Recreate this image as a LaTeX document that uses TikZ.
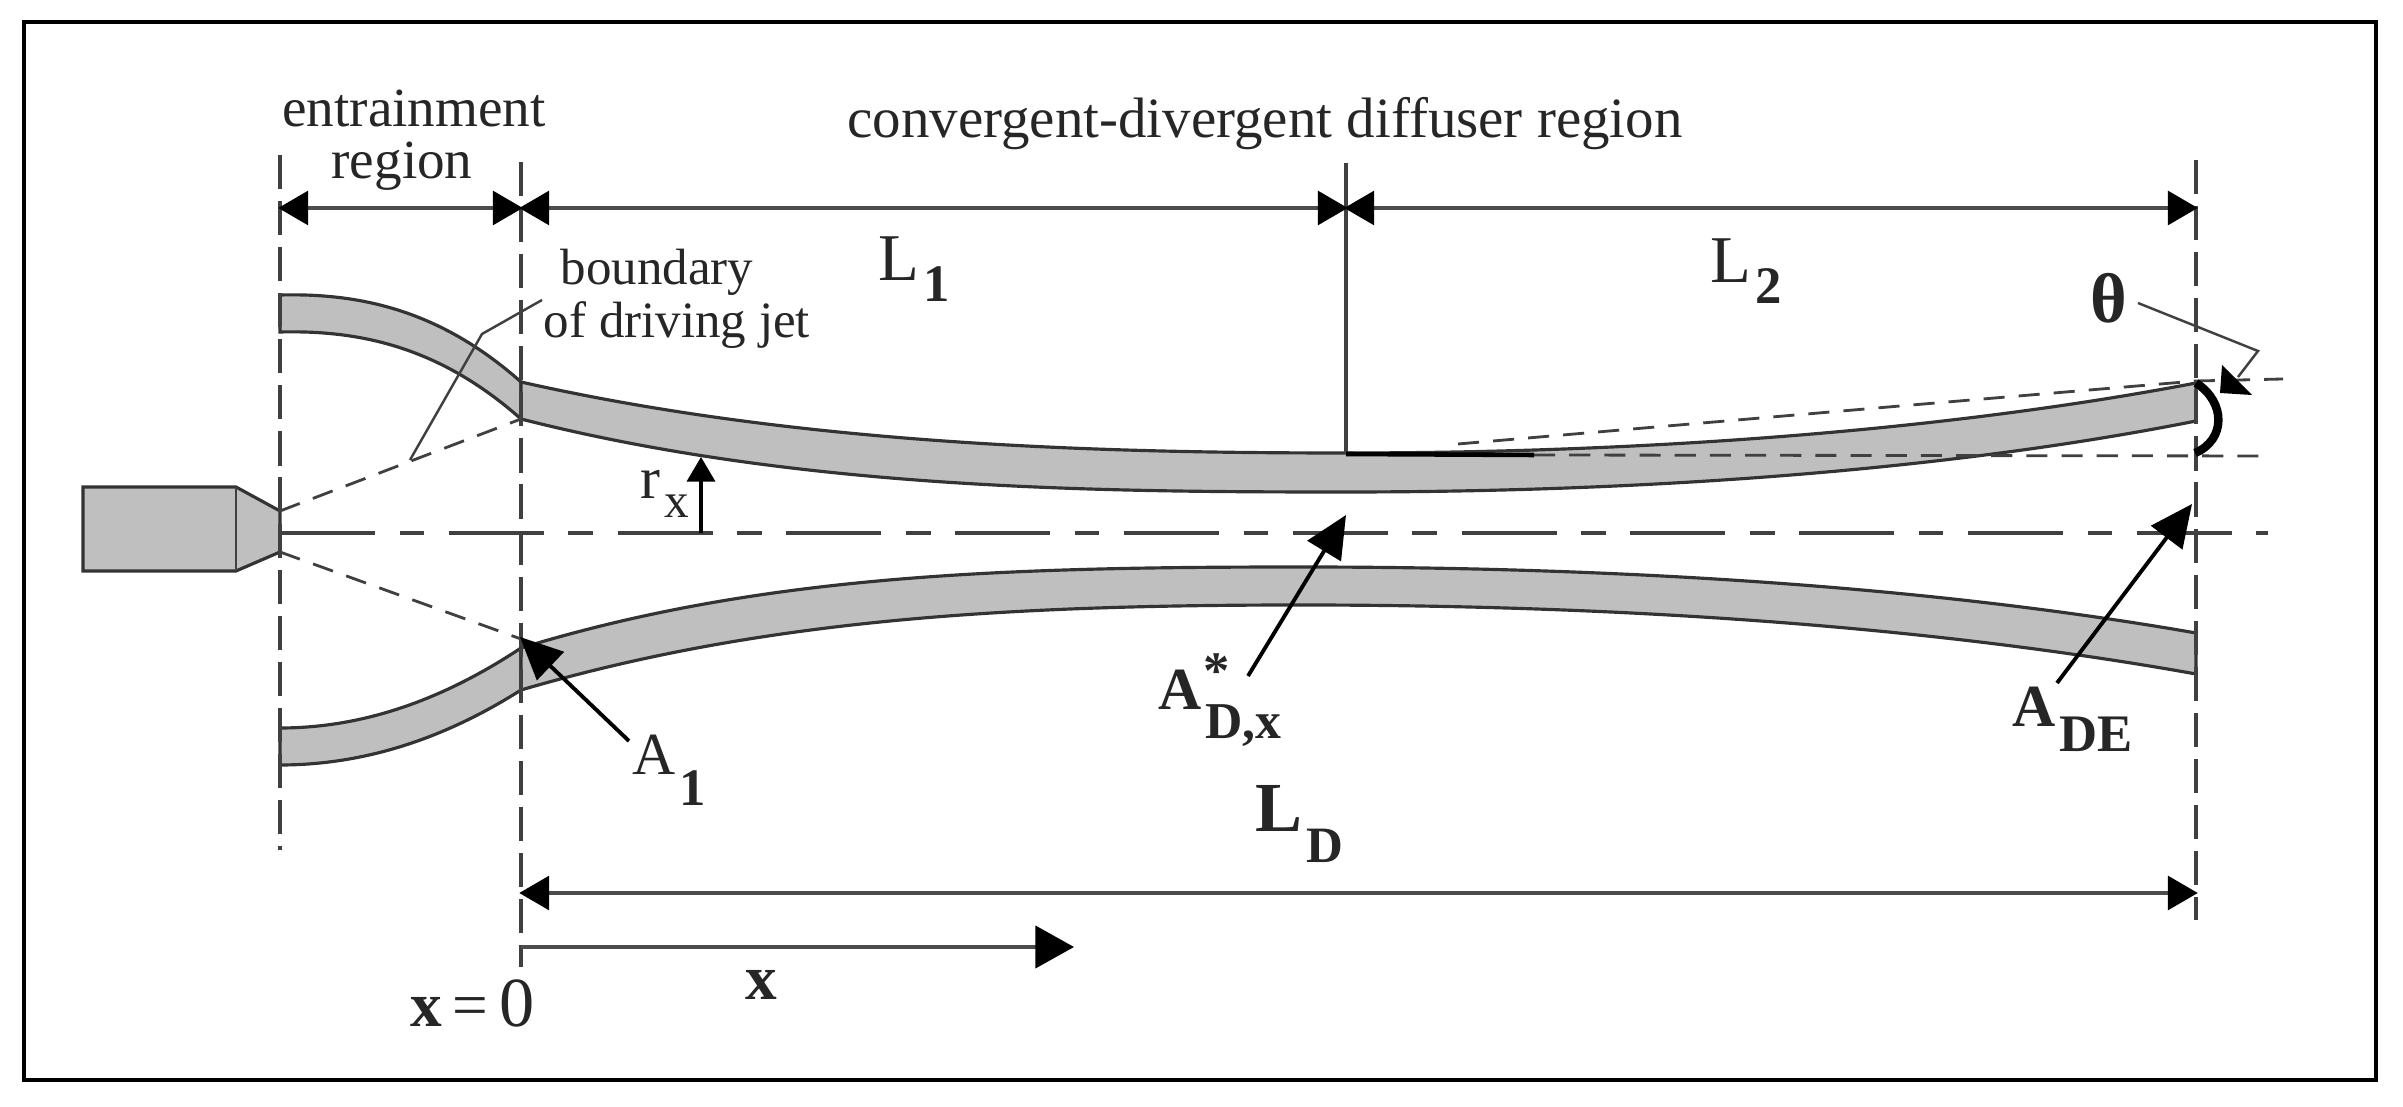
\documentclass[tikz,border=0pt]{standalone}
\usepackage{fontspec}
\setmainfont{Liberation Serif}
\usetikzlibrary{arrows.meta}
\newcommand{\sizedtxt}[2]{{\fontsize{#1}{#1}\selectfont #2}}
\newcommand{\sublbl}[3]{#1\kern 1pt\raisebox{-#2}{#3}}
\begin{document}
\begin{tikzpicture}[
    x=0.01cm, y=-0.01cm,
    >={Triangle[length=8.5pt,width=9.6pt,color=black]},
    frame/.style={draw=black, line width=1.35pt},
    wall/.style={draw=black!80, fill=black!25, line width=0.9pt},
    dim/.style={<->, draw=black!70, line width=1.05pt, shorten >=-0.5pt, shorten <=-0.5pt},
    guide/.style={draw=black!75, line width=0.9pt, dash pattern=on 9.7pt off 3.4pt},
    axis/.style={draw=black!75, line width=0.9pt, dash pattern=on 27pt off 7pt on 7pt off 7pt},
    jet/.style={draw=black!75, line width=0.8pt, dash pattern=on 6pt off 4pt},
    leader/.style={draw=black!75, line width=0.7pt},
    pointer/.style={->, >={Triangle[length=12pt,width=11pt,color=black]}, draw=black, line width=1.1pt},
    lbl/.style={inner sep=0pt, anchor=base west, text=black!85}
]
    \useasboundingbox (0,0) rectangle (2403,1107);
    \draw[frame] (24,22) rectangle (2376,1080);

    % walls and nozzle
    \draw[wall] (83,487) -- (236,487) -- (280,511) -- (280,552) -- (236,571) -- (83,571) -- cycle;
    \draw[leader] (236,487) -- (236,571);
    \draw[wall] (280,295) .. controls (360,293) and (440,310) .. (521,382)
        -- (521,419) .. controls (440,347) and (360,330) .. (280,332) -- cycle;
    \draw[wall] (521,382) .. controls (800,445) and (1100,453) .. (1346,453)
        .. controls (1650,453) and (1950,430) .. (2196,383)
        -- (2196,421) .. controls (1950,470) and (1650,492) .. (1346,492)
        .. controls (1100,492) and (800,490) .. (521,419) -- cycle;
    \draw[wall] (280,728) .. controls (370,728) and (450,695) .. (521,648)
        -- (521,690) .. controls (450,735) and (370,765) .. (280,765) -- cycle;
    \draw[wall] (521,648) .. controls (760,575) and (1000,567) .. (1300,567)
        .. controls (1650,567) and (1950,590) .. (2196,633)
        -- (2196,674) .. controls (1950,630) and (1650,605) .. (1300,605)
        .. controls (1000,605) and (760,620) .. (521,690) -- cycle;

    % named points
    \coordinate (ent top) at (280,155);
    \coordinate (ent bot) at (280,850);
    \coordinate (zero top) at (521,162);
    \coordinate (zero bot) at (521,967);
    \coordinate (throat top) at (1346,163);
    \coordinate (throat wall) at (1346,454);
    \coordinate (exit top) at (2196,160);
    \coordinate (exit bot) at (2196,920);
    \coordinate (axis l) at (280,533);
    \coordinate (axis r) at (2268,533);

    % guide lines
    \draw[guide] (ent top) -- (ent bot);
    \draw[guide] (zero top) -- (zero bot);
    \draw[guide] (exit top) -- (exit bot);
    \draw[leader, line width=0.9pt] (throat top) -- (throat wall);
    \draw[axis] (axis l) -- (axis r);
    \draw[jet] (280,511) -- (521,419);
    \draw[jet] (280,552) -- (521,639);
    \draw[jet] (1458,444) -- (1900,406) -- (2196,381) -- (2283,379);
    \draw[jet] (1534,455) -- (2272,456);
    \draw[draw=black, line width=1.3pt] (throat wall) -- (1534,455);

    % dimension lines
    \draw[dim] (280,208) -- (521,208);
    \draw[dim] (521,208) -- (1346,208);
    \draw[dim] (1346,208) -- (2196,208);
    \draw[dim] (521,893) -- (2196,893);
    \draw[->, >={Triangle[length=11pt,width=12pt,color=black]}, draw=black!70, line width=1.05pt] (521,947) -- (1074,947);
    \draw[->, >={Triangle[length=7pt,width=8pt,color=black]}, draw=black, line width=0.9pt] (701,533) -- (701,457);

    % texts
    \node[text=black!85, inner sep=0pt, align=center, font=\fontsize{15.7}{14.8}\selectfont] (entrain) at (414,140) {entrainment\\region\kern 6.8pt};
    \node[text=black!85, inner sep=0pt] (diffuser) at (1265,124) {\sizedtxt{16.2}{convergent-divergent diffuser region}};
    \node[text=black!85, inner sep=0pt] (bound) at (657,272) {\sizedtxt{14.5}{boundary}};
    \node[text=black!85, inner sep=0pt] (jetlbl) at (677,325) {\sizedtxt{14.5}{of driving jet}};
    \node[lbl] (lone) at (878,281) {\sizedtxt{19}{\sublbl{L}{5.7pt}{\sizedtxt{15}{\textbf{1}}}}};
    \node[lbl] (ltwo) at (1710,283) {\sizedtxt{19}{\sublbl{L}{5.7pt}{\sizedtxt{15}{\textbf{2}}}}};
    \node[lbl] (ld) at (1255,832) {\sizedtxt{20}{\sublbl{\textbf{L}}{8.8pt}{\sizedtxt{14.5}{\textbf{D}}}}};
    \node[lbl] (rx) at (640,499) {\sizedtxt{17}{\sublbl{r}{5.4pt}{\sizedtxt{14}{x}}}};
    \node[lbl] (aone) at (632,775) {\sizedtxt{17}{\sublbl{A}{8.8pt}{\sizedtxt{15}{\textbf{1}}}}};
    \node[lbl] (astar) at (1158,710) {\sizedtxt{17}{\textbf{A}\rlap{\raisebox{6pt}{\kern 0.5pt\sizedtxt{15}{\textbf{*}}}}\kern 1pt\raisebox{-8pt}{\sizedtxt{14.7}{\textbf{D,x}}}}};
    \node[lbl] (ade) at (2012,727) {\sizedtxt{17}{\sublbl{\textbf{A}}{7pt}{\sizedtxt{15}{\textbf{DE}}}}};
    \node[inner sep=0pt, text=black!85] (theta) at (2109,298) {\sizedtxt{20}{\textbf{θ}}};
    \node[lbl] (xzero) at (410,1027) {\sizedtxt{18}{\textbf{x}\,=\,}\sizedtxt{20}{0}};
    \node[inner sep=0pt, text=black!85] (xlbl) at (761,985) {\sizedtxt{18}{\textbf{x}}};

    % pointers
    \coordinate (aone tip) at (520,637);
    \coordinate (astar tip) at (1346,515);
    \coordinate (ade tip) at (2192,504);
    \draw[pointer] (629,741) -- (aone tip);
    \draw[pointer] (1248,676) -- (astar tip);
    \draw[pointer] (2057,683) -- (ade tip);

    % leader lines
    \draw[leader] (542,300) -- (482,334) -- (410,460);
    \draw[leader] (2138,303) -- (2258,351) -- (2238,377);
    \draw[line width=2.4pt] (2195,453) .. controls (2226,440) and (2226,402) .. (2196,383);
    \fill[black] (2222,365) -- (2252,395) -- (2220,393) -- cycle;
\end{tikzpicture}
\end{document}
